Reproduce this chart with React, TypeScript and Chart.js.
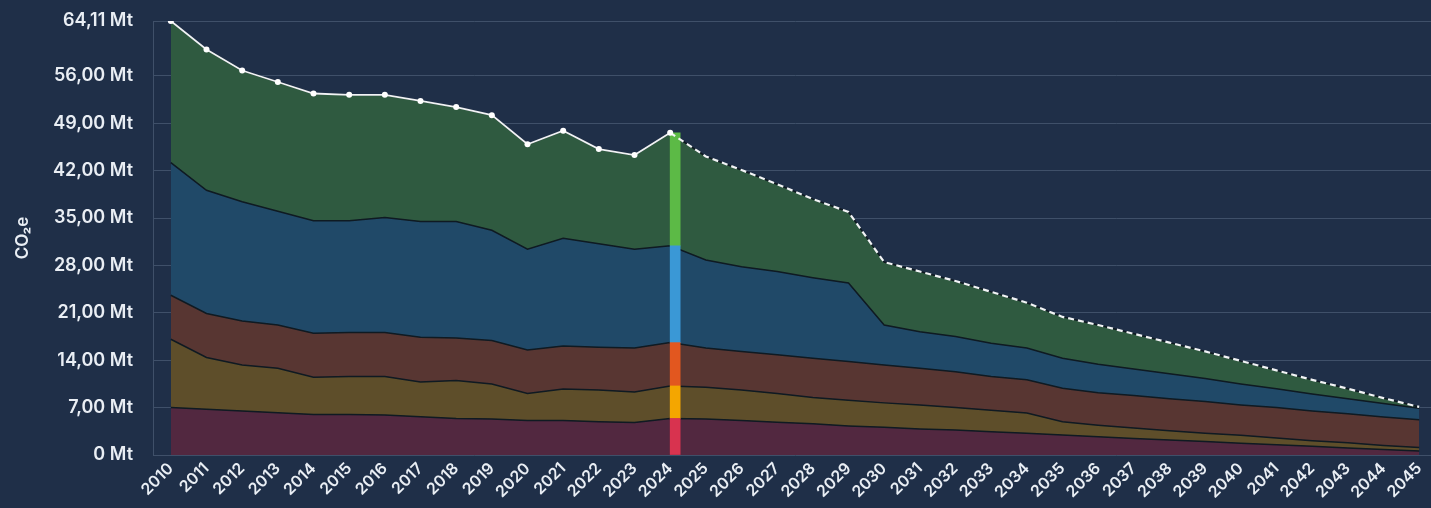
import { useEffect, useRef } from 'react';
import { Chart, registerables } from 'chart.js';

Chart.register(...registerables);

const years = [
  '2010', '2011', '2012', '2013', '2014', '2015', '2016', '2017', '2018', '2019',
  '2020', '2021', '2022', '2023', '2024', '2025', '2026', '2027', '2028', '2029',
  '2030', '2031', '2032', '2033', '2034', '2035', '2036', '2037', '2038', '2039',
  '2040', '2041', '2042', '2043', '2044', '2045',
];

// stacked layers, bottom to top (Mt CO2e)
const sector1 = [
  7.0, 6.75, 6.5, 6.25, 6.0, 6.0, 5.9, 5.65, 5.4, 5.3,
  5.1, 5.1, 4.9, 4.8, 5.4, 5.3, 5.1, 4.85, 4.6, 4.3,
  4.1, 3.85, 3.7, 3.45, 3.2, 2.95, 2.7, 2.45, 2.2, 2.0,
  1.75, 1.5, 1.3, 1.05, 0.8, 0.6,
];
const sector2 = [
  10.1, 7.65, 6.8, 6.55, 5.5, 5.6, 5.7, 5.15, 5.6, 5.2,
  4.0, 4.65, 4.7, 4.5, 4.8, 4.7, 4.5, 4.25, 3.9, 3.8,
  3.6, 3.55, 3.3, 3.15, 3.0, 1.95, 1.7, 1.55, 1.4, 1.2,
  1.15, 1.0, 0.8, 0.75, 0.6, 0.5,
];
const sector3 = [
  6.5, 6.5, 6.5, 6.4, 6.5, 6.5, 6.5, 6.6, 6.3, 6.4,
  6.4, 6.35, 6.3, 6.5, 6.4, 5.8, 5.7, 5.7, 5.8, 5.7,
  5.6, 5.4, 5.3, 5.0, 4.9, 4.95, 4.8, 4.8, 4.7, 4.7,
  4.5, 4.5, 4.4, 4.3, 4.2, 4.1,
];
const sector4 = [
  19.6, 18.2, 17.6, 16.8, 16.6, 16.5, 17.0, 17.1, 17.2, 16.3,
  14.9, 15.9, 15.3, 14.6, 14.3, 13.0, 12.5, 12.3, 11.9, 11.6,
  5.9, 5.4, 5.2, 4.9, 4.7, 4.45, 4.2, 3.9, 3.7, 3.4,
  3.1, 2.8, 2.5, 2.2, 2.0, 1.7,
];
const sector5 = [
  20.91, 20.8, 19.4, 19.1, 18.8, 18.6, 18.1, 17.8, 16.9, 17.0,
  15.5, 15.9, 14.0, 13.9, 16.7, 15.3, 14.3, 12.9, 11.6, 10.5,
  9.3, 8.9, 8.2, 7.6, 6.7, 6.1, 5.8, 5.2, 4.6, 4.0,
  3.4, 2.7, 2.1, 1.5, 0.8, 0.2,
];

const yTicks = [0, 7, 14, 21, 28, 35, 42, 49, 56, 64.11];
const highlightYear = '2024';

const BG = '#1f2f48';
const GRID = '#3f5069';
const TEXT = '#e9eef4';
const EDGE = '#0f1a22';
const areaColors = ['#522840', '#5e4e2a', '#583632', '#204968', '#2f5a40'];
const barColors = ['#d8334f', '#f4a600', '#e2571f', '#3a98d6', '#5cba46'];

export default function App() {
  const ref = useRef<HTMLCanvasElement>(null);

  useEffect(() => {
    if (!ref.current) return;
    const layers = [sector1, sector2, sector3, sector4, sector5];
    const hi = years.indexOf(highlightYear);
    const total = years.map((_, i) =>
      Math.round(layers.reduce((s, l) => s + l[i], 0) * 100) / 100
    );

    const totalDs: any = {
      type: 'line',
      label: 'Gesamt',
      data: total,
      stack: 'total',
      borderColor: '#f1f3f5',
      borderWidth: 1.8,
      pointRadius: years.map((_, i) => (i <= hi ? 3 : 0)),
      pointBackgroundColor: '#ffffff',
      pointBorderWidth: 0,
      pointHoverRadius: 0,
      fill: false,
      tension: 0,
      segment: {
        borderDash: (ctx: any) => (ctx.p0DataIndex >= hi ? [6, 4] : undefined),
        borderWidth: (ctx: any) => (ctx.p0DataIndex >= hi ? 2.2 : undefined),
      },
    };

    const padDs: any = {
      type: 'bar',
      label: 'pad',
      data: years.map(() => null),
      stack: 'pad',
      barThickness: 10,
    };

    const barDs: any[] = layers.map((l, k) => ({
      type: 'bar',
      label: 'hl' + k,
      data: years.map((_, i) => (i === hi ? l[i] : null)),
      stack: 'hl',
      barThickness: 10,
      backgroundColor: barColors[k],
      borderWidth: 0,
    }));

    const areaDs: any[] = layers.map((l, k) => ({
      type: 'line',
      label: 'sector' + (k + 1),
      data: l,
      stack: 'areas',
      fill: k === 0 ? 'origin' : '-1',
      backgroundColor: areaColors[k],
      borderColor: EDGE,
      borderWidth: 1.5,
      pointRadius: 0,
      pointHoverRadius: 0,
      tension: 0,
    }));

    const chart = new Chart(ref.current, {
      type: 'line',
      data: {
        labels: years,
        datasets: [totalDs, padDs, ...barDs, ...areaDs],
      },
      options: {
        animation: false,
        responsive: false,
        devicePixelRatio: 1,
        layout: { padding: { top: 21, left: 0, right: 0, bottom: 0 } },
        plugins: {
          legend: { display: false },
          tooltip: { enabled: false },
        },
        font: { family: 'Inter' },
        scales: {
          x: {
            type: 'category',
            offset: true,
            grid: { display: false, drawTicks: false },
            border: { display: false },
            ticks: {
              color: TEXT,
              font: { family: 'Inter', size: 16, weight: 600 },
              minRotation: 45,
              maxRotation: 45,
              autoSkip: false,
              padding: 4,
            },
            afterFit: (s: any) => {
              s.height = 53;
            },
          },
          y: {
            stacked: true,
            min: 0,
            max: 64.11,
            grid: { color: GRID, drawTicks: false, lineWidth: 1 },
            border: { display: true, color: GRID },
            title: {
              display: true,
              text: 'CO₂e',
              color: TEXT,
              font: { family: 'Inter', size: 17, weight: 600 },
              padding: { top: 13, bottom: 0 },
            },
            ticks: {
              color: TEXT,
              font: { family: 'Inter', size: 18, weight: 600 },
              padding: 20,
              callback: (v: any) =>
                Number(v) === 0 ? '0 Mt' : Number(v).toFixed(2).replace('.', ',') + ' Mt',
            },
            afterBuildTicks: (s: any) => {
              s.ticks = yTicks.map((v) => ({ value: v }));
            },
            afterFit: (s: any) => {
              s.width = 153;
              s.paddingTop = 10;
              s.paddingBottom = 10;
            },
          },
        },
      } as any,
    });
    return () => chart.destroy();
  }, []);

  return (
    <div
      style={{
        position: 'fixed',
        left: 0,
        top: 0,
        width: 1431,
        height: 508,
        overflow: 'hidden',
        background: BG,
      }}
    >
      <canvas ref={ref} width={1440} height={508} style={{ display: 'block' }} />
    </div>
  );
}
